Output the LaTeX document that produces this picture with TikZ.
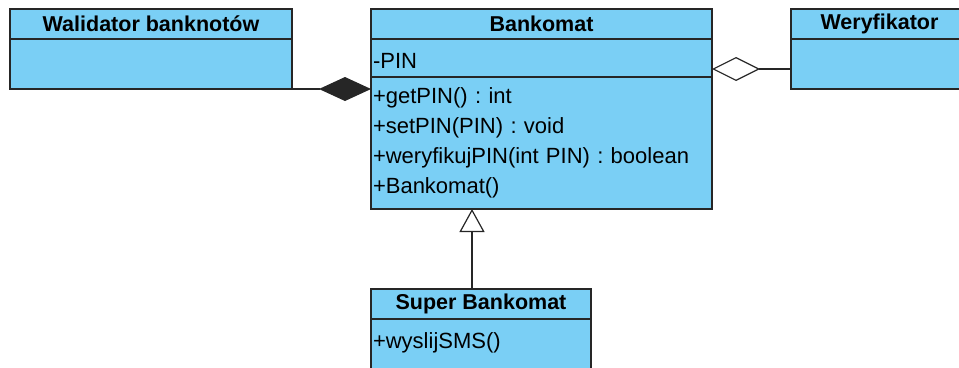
\documentclass[tikz,border=0pt]{standalone}
\usepackage{fontspec}
\setmainfont{Liberation Sans}
\usetikzlibrary{arrows.meta, positioning}
\definecolor{umlblue}{RGB}{122,207,245}
\frenchspacing
\tikzstyle{classname} = [rectangle, draw=black!85, fill=umlblue, line width=1.2pt, outer sep=0pt, inner sep=0pt, minimum height=30pt, text centered, font=\bfseries\fontsize{21.5}{30}\selectfont]
\tikzstyle{members} = [rectangle, draw=black!85, fill=umlblue, line width=1.2pt, outer sep=0pt, inner sep=2pt, align=left, font=\fontsize{22}{30}\selectfont]
\tikzstyle{link} = [line width=1.2pt, draw=black!85]
\tikzstyle{composition} = [link, -{Diamond[length=52pt, width=24pt]}]
\tikzstyle{aggregation} = [link, -{Diamond[open, fill=white, length=48pt, width=24pt]}]
\tikzstyle{generalization} = [link, -{Triangle[open, fill=white, length=23pt, width=25pt]}]

\begin{document}
\begin{tikzpicture}[x=1pt, y=-1pt]
    \useasboundingbox (0,0) rectangle (959,367);
    \clip (0,0) rectangle (959,367);

    \node (walhead) [classname, minimum width=282pt, anchor=north west] at (10,9) {Walidator banknotów};
    \node (walbody) [members, minimum width=282pt, minimum height=50pt, below=0pt of walhead] {};

    \node (bankhead) [classname, minimum width=341pt, anchor=north west] at (371,9) {Bankomat};
    \node (bankattr) [members, text width=337pt, minimum height=38pt, text height=22pt, text depth=2pt, below=0pt of bankhead] {-PIN};
    \node (bankops) [members, text width=337pt, minimum height=132pt, below=0pt of bankattr] {+getPIN() : int\\+setPIN(PIN) : void\\+weryfikujPIN(int PIN) : boolean\\+Bankomat()};

    \node (verhead) [classname, minimum width=177pt, anchor=north west] at (791,9) {Weryfikator};
    \node (verbody) [members, minimum width=177pt, minimum height=50pt, below=0pt of verhead] {};

    \node (superhead) [classname, minimum width=220pt, anchor=north west] at (371,289) {Super Bankomat};
    \node (superops) [members, text width=216pt, inner ysep=14pt, below=0pt of superhead] {+wyslijSMS()\\\mbox{}};

% associations
\draw [composition] (walbody.south east) -- (walbody.south east -| bankops.west);
\draw [aggregation] ([yshift=-5pt]verbody.west) -- ([yshift=-5pt]verbody.west -| bankattr.east);
\draw [generalization] ([xshift=-9pt]superhead.north) -- ([xshift=-9pt]superhead.north |- bankops.south);

\end{tikzpicture}
\end{document}
